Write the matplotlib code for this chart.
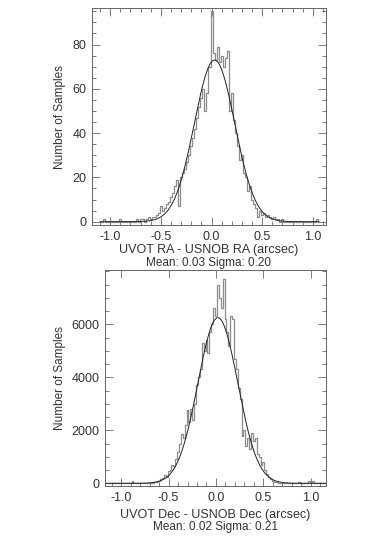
import numpy as np
import matplotlib
matplotlib.use("Agg")
import matplotlib.pyplot as plt
from matplotlib.ticker import MultipleLocator, FixedLocator

plt.rcParams['font.family'] = ['Liberation Sans', 'DejaVu Sans']

# histogram bins (0.02 arcsec wide), counts
ra_start = -1.10
ra_width = 0.02
ra_counts = [0, 0, 1, 0, 0, 0, 0, 0, 0, 0, 1, 0, 0, 0, 0, 0, 0,
             0, 1, 0, 1, 1, 0, 1, 2, 1, 2, 2, 3, 4, 7, 5, 6, 8, 9, 11, 13,
             16, 19, 7, 20, 22, 24, 27, 30, 34, 38, 42, 47, 52, 56, 60, 50,
             58, 70, 95, 76, 73, 79, 72, 75, 70, 74, 77, 50, 58, 46, 40, 34,
             28, 30, 22, 20, 14, 16, 10, 8, 6, 2, 5, 3, 4, 2, 3, 2, 1, 2, 1,
             1, 0, 1, 0, 0, 0, 0, 0, 0, 0, 0, 0, 0, 0, 0, 0, 0, 0, 0, 1, 0]
ra_mean = 0.03
ra_sigma = 0.20
ra_peak = 73
ra_yticks = [0, 20, 40, 60, 80]

dec_start = -1.16
dec_width = 0.02
dec_counts = [0, 0, 0, 0, 0, 0, 0, 0, 0, 0, 0, 0, 0, 0, 100, 0, 0, 0, 0,
              0, 0, 0, 0, 0, 20, 0, 40, 60, 100, 150, 200, 300, 250, 450,
              500, 700, 650, 900, 1200, 1500, 1850, 1700, 2200, 2750, 2300,
              2800, 2400, 3000, 3700, 4000, 4300, 5300, 5000, 5400, 4900,
              5700, 6000, 6600, 6300, 7500, 7000, 6600, 7700, 6200, 5700,
              5200, 6300, 6200, 4700, 4300, 3600, 3200, 1800, 2000, 1400,
              1700, 1300, 1900, 1600, 1700, 1100, 1000, 700, 800, 500, 350,
              250, 150, 100, 60, 40, 20, 0, 0, 0, 0, 0, 0, 0, 0, 0, 0, 50,
              0, 0, 0, 0, 80, 0, 100, 0, 0, 0, 0, 0, 0, 0]
dec_mean = 0.02
dec_sigma = 0.21
dec_peak = 6250
dec_yticks = [0, 2000, 4000, 6000]

panels = [
    dict(start=ra_start, width=ra_width, counts=ra_counts, mean=ra_mean,
         sigma=ra_sigma, peak=ra_peak, yticks=ra_yticks,
         xlabel='UVOT RA - USNOB RA (arcsec)',
         stats='Mean: 0.03 Sigma: 0.20',
         rect=[0.2408, 0.5833, 0.6126, 0.4019],
         xlim=(-1.18, 1.13), ylim=(-1.5, 96.5),
         yminor=5, top_minor=True,
         xl_y=0.537, st_y=0.513),
    dict(start=dec_start, width=dec_width, counts=dec_counts, mean=dec_mean,
         sigma=dec_sigma, peak=dec_peak, yticks=dec_yticks,
         xlabel='UVOT Dec - USNOB Dec (arcsec)',
         stats='Mean: 0.02 Sigma: 0.21',
         rect=[0.2749, 0.1, 0.5785, 0.4],
         xlim=(-1.17, 1.16), ylim=(-100, 8050),
         yminor=500, top_minor=False,
         xl_y=0.046, st_y=0.024),
]

fig = plt.figure(figsize=(3.82, 5.40), dpi=100)
txt = '#333333'

for p in panels:
    ax = fig.add_axes(p['rect'])
    counts = np.array(p['counts'], dtype=float)
    centers = p['start'] + p['width'] * np.arange(len(counts))
    ax.step(centers, counts, where='mid', color='#8c8c8c', lw=0.9)

    # gaussian fit drawn from the quoted mean / sigma
    xf = np.linspace(centers[0], centers[-1], 400)
    yf = p['peak'] * np.exp(-0.5 * ((xf - p['mean']) / p['sigma']) ** 2)
    ax.plot(xf, yf, color='#222222', lw=0.7)

    ax.set_xlim(*p['xlim'])
    ax.set_ylim(*p['ylim'])
    ax.xaxis.set_major_locator(MultipleLocator(0.5))
    ax.xaxis.set_minor_locator(MultipleLocator(0.1))
    ax.yaxis.set_major_locator(FixedLocator(p['yticks']))
    ax.yaxis.set_minor_locator(MultipleLocator(p['yminor']))
    ax.xaxis.set_major_formatter(plt.FuncFormatter(lambda v, _: '%.1f' % v))
    ax.yaxis.set_major_formatter(plt.FuncFormatter(lambda v, _: '%d' % round(v)))

    ax.tick_params(which='both', direction='in', top=True, right=True,
                   color='#666666', labelsize=9, labelcolor=txt, width=0.6)
    ax.tick_params(which='major', length=6, pad=4)
    ax.tick_params(which='minor', length=3)
    if not p['top_minor']:
        ax.tick_params(which='minor', top=False)
    for s in ax.spines.values():
        s.set_color('#666666')
        s.set_linewidth(0.7)

    l, b, w, h = p['rect']
    fig.text(l + w / 2, p['xl_y'], p['xlabel'], ha='center', va='center',
             fontsize=9, color=txt)
    fig.text(l + w / 2, p['st_y'], p['stats'], ha='center', va='center',
             fontsize=8.5, color=txt)
    fig.text(0.157, b + h / 2, 'Number of Samples', rotation=90,
             ha='center', va='center', fontsize=8.5, color=txt)

fig.savefig('out.png', dpi=100)
